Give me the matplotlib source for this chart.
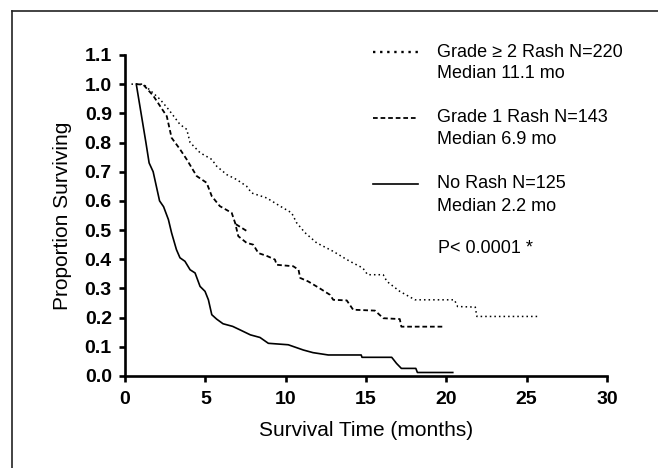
import matplotlib
matplotlib.use("Agg")
import matplotlib.pyplot as plt
from matplotlib.lines import Line2D

plt.rcParams['font.family'] = ['Liberation Sans', 'DejaVu Sans']

# Kaplan-Meier curves (months, proportion surviving)
no_rash_t = [0.7, 1.0, 1.3, 1.5, 1.75, 2.15, 2.4, 2.7, 2.9, 3.2, 3.42, 3.73, 4.05, 4.36,
             4.67, 4.98, 5.19, 5.4, 5.7, 6.1, 6.7, 7.16, 7.8, 8.4, 8.92, 10.16, 11.1,
             11.7, 12.65, 14.7, 14.75, 16.6, 16.9, 17.2, 18.1, 18.2, 20.4]
no_rash_p = [1.0, 0.9, 0.8, 0.73, 0.70, 0.60, 0.58, 0.536, 0.49, 0.433, 0.405, 0.393,
             0.364, 0.353, 0.307, 0.29, 0.261, 0.21, 0.195, 0.179, 0.17, 0.158, 0.141,
             0.132, 0.112, 0.107, 0.089, 0.08, 0.072, 0.072, 0.064, 0.064, 0.043, 0.026,
             0.026, 0.012, 0.012]

grade1_t = [0.7, 1.14, 1.76, 2.6, 2.9, 3.42, 3.84, 4.46, 5.08, 5.4, 5.9, 6.64, 6.85,
            7.05, 7.57, 7.98, 8.3, 8.8, 9.33, 9.44, 10.47, 10.8, 10.9, 11.4, 12.1,
            12.76, 12.96, 13.8, 14.2, 15.56, 16.07, 17.1, 17.2, 19.8]
grade1_p = [1.0, 0.998, 0.96, 0.89, 0.816, 0.777, 0.742, 0.685, 0.662, 0.616, 0.582,
            0.559, 0.525, 0.479, 0.456, 0.45, 0.421, 0.412, 0.399, 0.381, 0.376, 0.364,
            0.336, 0.324, 0.301, 0.278, 0.261, 0.259, 0.227, 0.224, 0.198, 0.195, 0.169,
            0.169]
# small stray piece of the dashed curve near 7 months
grade1_stub_t = [6.9, 7.6]
grade1_stub_p = [0.52, 0.496]

grade2_t = [0.4, 1.14, 2.18, 2.7, 3.42, 3.84, 4.05, 4.67, 5.4, 5.7, 6.33, 6.95, 7.57,
            7.88, 8.82, 9.65, 10.37, 10.68, 11.2, 11.93, 12.96, 13.8, 14.2, 14.8, 15.1,
            16.07, 16.3, 17.1, 18.05, 20.5, 20.7, 21.8, 21.9, 25.8]
grade2_p = [1.0, 1.0, 0.948, 0.914, 0.862, 0.845, 0.8, 0.765, 0.742, 0.719, 0.69, 0.673,
            0.65, 0.627, 0.61, 0.582, 0.559, 0.525, 0.491, 0.456, 0.427, 0.399, 0.387,
            0.37, 0.347, 0.347, 0.324, 0.29, 0.261, 0.261, 0.238, 0.236, 0.204, 0.204]

legend_labels = [("Grade \u2265 2 Rash N=220", "Median 11.1 mo"),
                 ("Grade 1 Rash N=143", "Median 6.9 mo"),
                 ("No Rash N=125", "Median 2.2 mo")]
p_text = "P< 0.0001 *"

x_ticks = [0, 5, 10, 15, 20, 25, 30]
y_ticks = [0.0, 0.1, 0.2, 0.3, 0.4, 0.5, 0.6, 0.7, 0.8, 0.9, 1.0, 1.1]

dotted = (0, (1, 2))
dashed = (0, (2.6, 1.6))

fig = plt.figure(figsize=(6.58, 4.68), dpi=100)
ax = fig.add_axes([0.190, 0.1966, 0.7325, 0.686])

ax.plot(grade2_t, grade2_p, color='black', lw=1.1, ls=dotted)
ax.plot(grade1_t, grade1_p, color='black', lw=1.3, ls=dashed)
ax.plot(grade1_stub_t, grade1_stub_p, color='black', lw=1.3, ls=dashed)
ax.plot(no_rash_t, no_rash_p, color='black', lw=1.2, ls='-')

ax.set_xlim(0, 30)
ax.set_ylim(0, 1.1)
ax.set_xticks(x_ticks)
ax.set_yticks(y_ticks)
ax.set_yticklabels(["%.1f" % v for v in y_ticks])
for s in ['top', 'right']:
    ax.spines[s].set_visible(False)
for s in ['left', 'bottom']:
    ax.spines[s].set_linewidth(1.9)
ax.tick_params(direction='out', length=4.5, width=1.9, labelsize=14)
ax.tick_params(axis='y', pad=5)
ax.tick_params(axis='x', pad=6)
for lab in ax.get_xticklabels() + ax.get_yticklabels():
    lab.set_fontweight('bold')

ax.set_xlabel("Survival Time (months)", fontsize=15, labelpad=10)
ax.set_ylabel("Proportion Surviving", fontsize=15, labelpad=9)

# legend drawn by hand, sample aligned with first text line
styles = [(dotted, 1.7), (dashed, 1.3), ('-', 1.2)]
first_y = [1.109, 0.885, 0.658]
second_y = [1.035, 0.809, 0.58]
for (l1, l2), (ls, lw), y1, y2 in zip(legend_labels, styles, first_y, second_y):
    ax.add_line(Line2D([15.43, 18.23], [y1, y1], color='black', ls=ls, lw=lw,
                       clip_on=False))
    ax.text(19.4, y1, l1, fontsize=13, va='center', ha='left')
    ax.text(19.4, y2, l2, fontsize=13, va='center', ha='left')
ax.text(19.5, 0.438, p_text, fontsize=13, va='center', ha='left')

# outer frame (only left and top edges visible in the crop)
fig.add_artist(Line2D([12 / 658, 12 / 658], [0, 1 - 11 / 468], color='#222222', lw=1.2))
fig.add_artist(Line2D([12 / 658, 1], [1 - 11 / 468, 1 - 11 / 468], color='#222222', lw=1.2))

fig.savefig("out.png", dpi=100)
